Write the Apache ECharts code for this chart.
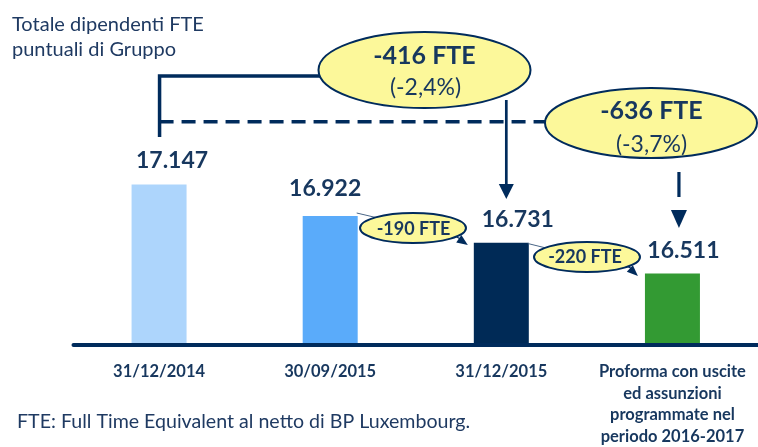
<!DOCTYPE html>
<html><head><meta charset="utf-8">
<script src="https://cdn.jsdelivr.net/npm/echarts@6/dist/echarts.min.js"></script>
<style>html,body{margin:0;padding:0;background:#fff}#c{width:758px;height:447px}</style>
</head><body><div id="c"></div>
<script>
// ---- data ----
const categories = ['31/12/2014', '30/09/2015', '31/12/2015', 'Proforma con uscite\ned assunzioni\nprogrammate nel\nperiodo 2016-2017'];
const values = [17147, 16922, 16731, 16511];
const valueLabels = ['17.147', '16.922', '16.731', '16.511'];
const stepLabels = ['-190 FTE', '-220 FTE'];
const totalLabels = ['-416 FTE', '-636 FTE'];
const totalPct = ['(-2,4%)', '(-3,7%)'];
const titleText = 'Totale dipendenti FTE\npuntuali di Gruppo';
const footText = 'FTE: Full Time Equivalent al netto di BP Luxembourg.';

// ---- styles ----
const barColors = ['#add5fc', '#5aabfa', '#002a56', '#339a33'];
const navy = '#002b5c';
const textNavy = '#17375e';
const yellow = '#fcf89a';
const FONT = 'Lato';

const chart = echarts.init(document.getElementById('c'), null, {renderer: 'canvas'});
const labelOffsets = [[13, -12.5], [-5, -15.5], [16.5, -11.5], [11, -11.5]];

chart.setOption({
  animation: false,
  grid: {left: 73.5, right: -3.5, top: 135, bottom: 100},
  xAxis: {
    type: 'category', data: categories, z: 5,
    axisLine: {lineStyle: {color: navy, width: 4}},
    axisTick: {show: false},
    axisLabel: {interval: 0, color: textNavy, fontFamily: FONT, fontWeight: 'bold', fontSize: 16.5, lineHeight: 21.5, margin: 16}
  },
  yAxis: {type: 'value', min: 16000, max: 17500, show: false},
  series: [{
    type: 'bar', barWidth: 55,
    data: values.map((v, i) => ({value: v, itemStyle: {color: barColors[i]}, label: {offset: labelOffsets[i]}})),
    label: {show: true, position: 'top', distance: 0, formatter: p => valueLabels[p.dataIndex],
      fontFamily: FONT, fontWeight: 'bold', fontSize: 23, color: textNavy}
  }]
});

// anchor pixels of bar tops
const P = values.map((v, i) => chart.convertToPixel({seriesIndex: 0}, [i, v]));
const halfW = 27.5;

function arrowHead(tip, from, len, hw) {
  const dx = tip[0] - from[0], dy = tip[1] - from[1];
  const d = Math.hypot(dx, dy), ux = dx / d, uy = dy / d;
  const bx = tip[0] - ux * len, by = tip[1] - uy * len;
  return {type: 'polygon', shape: {points: [tip, [bx - uy * hw, by + ux * hw], [bx + uy * hw, by - ux * hw]]}, style: {fill: navy}, z: 10};
}
function line(pts, w, dash, color) {
  return {type: 'polyline', shape: {points: pts}, style: {stroke: color || navy, lineWidth: w, lineDash: dash || null, fill: null}, z: 9};
}
function ellipse(cx, cy, rx, ry, w) {
  return {type: 'ellipse', shape: {cx, cy, rx, ry}, style: {fill: yellow, stroke: navy, lineWidth: w}, z: 11};
}
function txt(x, y, s, size, weight, color, align, lh) {
  return {type: 'text', x, y, style: {text: s, font: (weight || 'normal') + ' ' + size + 'px ' + FONT, fill: color || textNavy,
    align: align || 'center', verticalAlign: 'middle', lineHeight: lh}, z: 12};
}

const g = [];
// big bracket (solid) from bar 1 to first total ellipse
const x0 = P[0][0] + 0.5;
g.push(line([[x0, 137], [x0, 76], [322, 76]], 3.5));
// dashed line to second total ellipse
g.push(line([[x0, 121.7], [550, 121.7]], 3.5, [14, 8]));
// arrow 1 down to bar 3
const a1x = P[2][0] + 5;
g.push(line([[a1x, 100], [a1x, 186]], 2.7));
g.push(arrowHead([a1x, 199], [a1x, 100], 15, 7.5));
// arrow 2 (dashed) down to bar 4
const a2x = P[3][0] + 6.5;
g.push(line([[a2x, 172], [a2x, 197]], 3.2));
g.push(arrowHead([a2x, 228], [a2x, 150], 18, 8));

// total ellipses
g.push(ellipse(424.5, 70, 106, 38, 2));
g.push(txt(424.5, 56, totalLabels[0], 25, 'bold', textNavy));
g.push(txt(425.5, 88, totalPct[0], 23, 'normal', textNavy));
g.push(ellipse(651, 123, 106, 35, 2));
g.push(txt(651.5, 111, totalLabels[1], 25, 'bold', textNavy));
g.push(txt(651.5, 145, totalPct[1], 23, 'normal', textNavy));

// step ellipses
// step 1: bar2 -> bar3
g.push(line([[P[1][0] + halfW - 1, 213], [378, 218]], 1, null, '#4a6687'));
g.push(ellipse(413, 228, 53, 15, 2));
g.push(txt(413.5, 229.5, stepLabels[0], 18, 'bold', textNavy));
g.push(line([[455, 236], [464, 241]], 1.2));
g.push(arrowHead([P[2][0] - halfW - 6, 245], [452, 234], 11, 4.5));
// step 2: bar3 -> bar4
g.push(line([[P[2][0] + halfW - 1, 243.5], [546, 248]], 1, null, '#4a6687'));
g.push(ellipse(587, 257, 53, 15, 2));
g.push(txt(585, 257.5, stepLabels[1], 18, 'bold', textNavy));
g.push(line([[627, 266], [634, 270]], 1.2));
g.push(arrowHead([P[3][0] - halfW - 7, 276], [626, 265], 11, 4.5));

// title and footnote
g.push({type: 'text', x: 12, y: 12, style: {text: titleText, font: 'normal 20px ' + FONT, fill: '#1f3a62', lineHeight: 25, align: 'left', verticalAlign: 'top'}, z: 12});
g.push({type: 'text', x: 17, y: 412, style: {text: footText, font: 'normal 19.6px ' + FONT, fill: '#1f3a62', align: 'left', verticalAlign: 'top'}, z: 12});

chart.setOption({graphic: g});
</script>
</body></html>
